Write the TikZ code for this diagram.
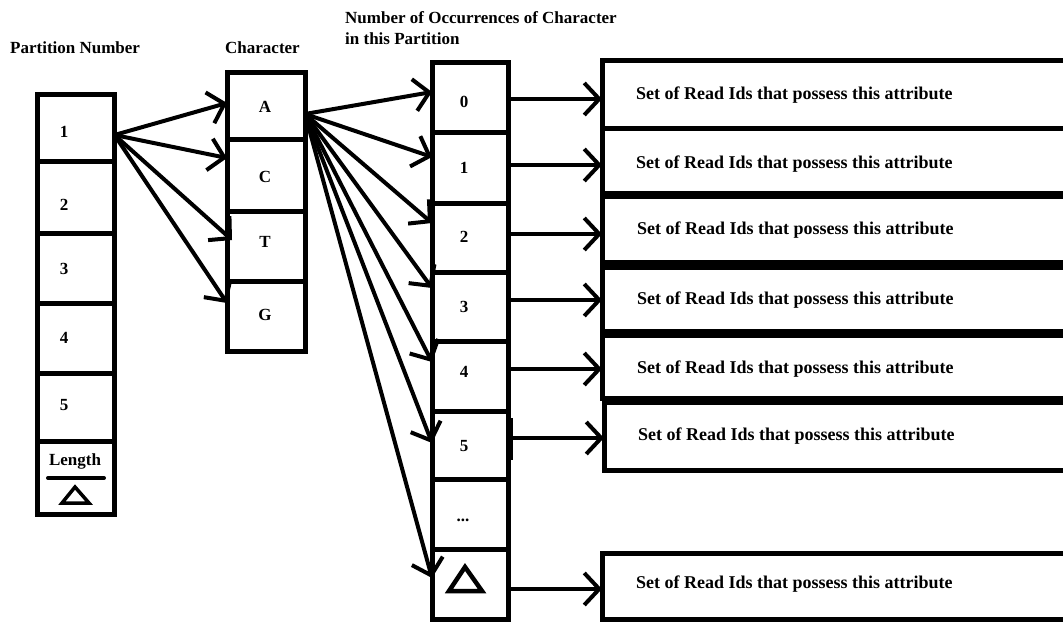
\documentclass[tikz,border=0pt]{standalone}
\usepackage{fontspec}
\setmainfont{Liberation Serif}
\usetikzlibrary{arrows.meta}
\begin{document}
\begin{tikzpicture}[x=1pt,y=-1pt,
  cellbox/.style={draw=black, line width=5pt, inner sep=0pt, outer sep=0pt},
  lbl/.style={font=\bfseries\fontsize{17}{20}\selectfont, inner sep=0pt, text height=11.5pt, text depth=0pt},
  boxtext/.style={lbl, font=\bfseries\fontsize{18}{21}\selectfont, anchor=west},
  arr/.style={line width=4pt, -{Straight Barb[length=15pt,width=32pt]}},
  tri/.style={line width=4.5pt, line join=miter}]
\useasboundingbox (0,0) rectangle (1063,623);
\clip (0,0) rectangle (1063,623);

% headers
\node[lbl, anchor=west] (hPart) at (10,48) {Partition Number};
\node[lbl, anchor=west] (hChar) at (225,48) {Character};
\node[lbl, anchor=west] (hOccA) at (345,18) {Number of Occurrences of Character};
\node[lbl, anchor=west] (hOccB) at (345,39) {in this Partition};

% partition column
\node[cellbox, minimum width=77pt, minimum height=67pt] (p1) at (76,128.5) {};
\node[cellbox, minimum width=77pt, minimum height=71pt] (p2) at (76,197.5) {};
\node[cellbox, minimum width=77pt, minimum height=70pt] (p3) at (76,268) {};
\node[cellbox, minimum width=77pt, minimum height=70pt] (p4) at (76,338) {};
\node[cellbox, minimum width=77pt, minimum height=68pt] (p5) at (76,407) {};
\node[cellbox, minimum width=77pt, minimum height=73pt] (pL) at (76,477.5) {};
\node[lbl] (p1t) at (64,132) {1};
\node[lbl] (p2t) at (64,205) {2};
\node[lbl] (p3t) at (64,269) {3};
\node[lbl] (p4t) at (64,338) {4};
\node[lbl] (p5t) at (64,405) {5};
\node[lbl] (pLt) at (75,460) {Length};
\draw[line width=4pt, line cap=round] ([xshift=-28pt]pL.center |- 0,478) -- ([xshift=28pt]pL.center |- 0,478);
\draw[line width=3.5pt, line join=miter] (75,487) -- (89,503) -- (62,503) -- cycle;

% character column
\node[cellbox, minimum width=78pt, minimum height=67pt] (cA) at (266,106.5) {};
\node[cellbox, minimum width=78pt, minimum height=71pt] (cC) at (266,175.5) {};
\node[cellbox, minimum width=78pt, minimum height=70pt] (cT) at (266,246) {};
\node[cellbox, minimum width=78pt, minimum height=70pt] (cG) at (266,316) {};
\node[lbl] (cAt) at (265,107) {A};
\node[lbl] (cCt) at (265,177) {C};
\node[lbl] (cTt) at (265,242) {T};
\node[lbl] (cGt) at (265,315) {G};

% occurrence column
\node[cellbox, minimum width=76pt, minimum height=70pt] (o0) at (470,98) {};
\node[cellbox, minimum width=76pt, minimum height=70pt] (o1) at (470,168) {};
\node[cellbox, minimum width=76pt, minimum height=69pt] (o2) at (470,237.5) {};
\node[cellbox, minimum width=76pt, minimum height=69pt] (o3) at (470,306.5) {};
\node[cellbox, minimum width=76pt, minimum height=70pt] (o4) at (470,376) {};
\node[cellbox, minimum width=76pt, minimum height=68pt] (o5) at (470,445) {};
\node[cellbox, minimum width=76pt, minimum height=70pt] (od) at (470,514) {};
\node[cellbox, minimum width=76pt, minimum height=70pt] (oD) at (470,584) {};
\node[lbl] (o0t) at (464,102) {0};
\node[lbl] (o1t) at (464,168) {1};
\node[lbl] (o2t) at (464,237) {2};
\node[lbl] (o3t) at (464,307) {3};
\node[lbl] (o4t) at (464,372) {4};
\node[lbl] (o5t) at (464,446) {5};
\node[lbl] (odt) at (463,516) {...};
\draw[tri] (465,567) -- (482,591) -- (449,591) -- cycle;
\draw[line width=4.5pt] ([xshift=3pt,yshift=27pt]o5.east) -- ([xshift=3pt,yshift=-15pt]o5.east);

% result boxes
\node[cellbox, minimum width=478pt, minimum height=68pt] (b1) at (841,95) {};
\node[cellbox, minimum width=478pt, minimum height=64pt] (b2) at (841,161) {};
\node[cellbox, minimum width=478pt, minimum height=66pt] (b3) at (841,229) {};
\node[cellbox, minimum width=478pt, minimum height=64pt] (b4) at (841,299) {};
\node[cellbox, minimum width=478pt, minimum height=63pt] (b5) at (841,366.5) {};
\node[cellbox, minimum width=476pt, minimum height=68pt] (b6) at (842,436) {};
\node[cellbox, minimum width=478pt, minimum height=66pt] (b7) at (841,586) {};
\node[boxtext] (t1) at (636,94) {Set of Read Ids that possess this attribute};
\node[boxtext] (t2) at (636,163) {Set of Read Ids that possess this attribute};
\node[boxtext] (t3) at (637,229) {Set of Read Ids that possess this attribute};
\node[boxtext] (t4) at (637,299) {Set of Read Ids that possess this attribute};
\node[boxtext] (t5) at (637,368) {Set of Read Ids that possess this attribute};
\node[boxtext] (t6) at (638,435) {Set of Read Ids that possess this attribute};
\node[boxtext] (t7) at (636,583) {Set of Read Ids that possess this attribute};

% arrows partition 1 -> characters
\draw[arr] ([yshift=-6.5pt]p1.east) -- ([yshift=3.5pt]cA.west);
\draw[arr] ([yshift=-6.5pt]p1.east) -- ([yshift=17.5pt]cC.west);
\draw[arr] ([yshift=-6.5pt]p1.east) -- ([xshift=5pt,yshift=6pt]cT.west);
\draw[arr] ([yshift=-6.5pt]p1.east) -- ([yshift=13pt]cG.west);

% arrows A -> occurrences
\draw[arr] ([yshift=-7.5pt]cA.east) -- ([yshift=6pt]o0.west);
\draw[arr] ([yshift=-7.5pt]cA.east) -- ([yshift=11pt]o1.west);
\draw[arr] ([yshift=-7.5pt]cA.east) -- ([yshift=14.5pt]o2.west);
\draw[arr] ([yshift=-7.5pt]cA.east) -- ([yshift=18.5pt]o3.west);
\draw[arr] ([yshift=-7.5pt]cA.east) -- ([yshift=14pt]o4.west);
\draw[arr] ([yshift=-7.5pt]cA.east) -- ([yshift=2pt]o5.west);
\draw[arr] ([yshift=-7.5pt]cA.east) -- ([yshift=6pt]oD.west);

% arrows occurrences -> result boxes
\draw[arr] ([yshift=-1pt]o0.east) -- ([yshift=-1pt]o0.east -| b1.west);
\draw[arr] ([yshift=3pt]o1.east) -- ([yshift=3pt]o1.east -| b2.west);
\draw[arr] ([yshift=3.5pt]o2.east) -- ([yshift=3.5pt]o2.east -| b3.west);
\draw[arr] ([yshift=6.5pt]o3.east) -- ([yshift=6.5pt]o3.east -| b4.west);
\draw[arr] ([yshift=7pt]o4.east) -- ([yshift=7pt]o4.east -| b5.west);
\draw[arr] ([yshift=7pt]o5.east) -- ([yshift=7pt]o5.east -| b6.west);
\draw[arr] ([yshift=-5pt]oD.east) -- ([yshift=-5pt]oD.east -| b7.west);
\end{tikzpicture}
\end{document}
